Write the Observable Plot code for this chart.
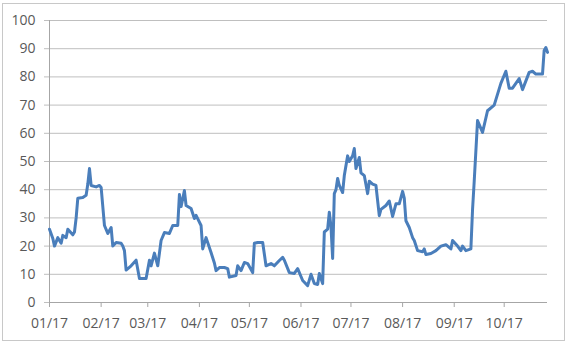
<!DOCTYPE html>
<html>
<head>
<meta charset="utf-8">
<script src="https://cdn.jsdelivr.net/npm/d3@7"></script>
<script src="https://cdn.jsdelivr.net/npm/@observablehq/plot@0.6"></script>
<style>
  html, body { margin: 0; padding: 0; background: #ffffff; }
  #wrap { position: relative; width: 570px; height: 345px; overflow: hidden; }
  #border { position: absolute; left: 2px; top: 3px; width: 561px; height: 336px; border: 1px solid #c8c8c8; pointer-events: none; }
  svg { display: block; }
</style>
</head>
<body>
<div id="wrap"><div id="border"></div></div>
<script>
const dates = [
  "2017-01-01","2017-01-03","2017-01-04","2017-01-06","2017-01-08","2017-01-09","2017-01-11","2017-01-12","2017-01-15","2017-01-16","2017-01-17","2017-01-18","2017-01-21","2017-01-23","2017-01-24","2017-01-25","2017-01-26","2017-01-29","2017-01-31",
  "2017-02-01","2017-02-03","2017-02-05","2017-02-07","2017-02-08","2017-02-10","2017-02-13","2017-02-14","2017-02-15","2017-02-16","2017-02-19","2017-02-22","2017-02-24","2017-02-28",
  "2017-03-02","2017-03-03","2017-03-05","2017-03-07","2017-03-09","2017-03-11","2017-03-14","2017-03-16","2017-03-19","2017-03-20","2017-03-21","2017-03-23","2017-03-24","2017-03-27","2017-03-29","2017-03-30",
  "2017-04-02","2017-04-03","2017-04-05","2017-04-08","2017-04-10","2017-04-11","2017-04-13","2017-04-16","2017-04-18","2017-04-19","2017-04-23","2017-04-24","2017-04-26","2017-04-28","2017-04-30",
  "2017-05-03","2017-05-04","2017-05-06","2017-05-09","2017-05-11","2017-05-14","2017-05-16","2017-05-19","2017-05-21","2017-05-22","2017-05-25","2017-05-28","2017-05-30",
  "2017-06-02","2017-06-05","2017-06-07","2017-06-09","2017-06-11","2017-06-12","2017-06-14","2017-06-15","2017-06-17","2017-06-18","2017-06-19","2017-06-20","2017-06-21","2017-06-22","2017-06-23","2017-06-24","2017-06-26","2017-06-27","2017-06-29","2017-06-30",
  "2017-07-02","2017-07-03","2017-07-04","2017-07-06","2017-07-07","2017-07-09","2017-07-11","2017-07-12","2017-07-14","2017-07-16","2017-07-18","2017-07-19","2017-07-22","2017-07-24","2017-07-26","2017-07-28","2017-07-30",
  "2017-08-01","2017-08-02","2017-08-03","2017-08-05","2017-08-07","2017-08-08","2017-08-10","2017-08-13","2017-08-14","2017-08-15","2017-08-18","2017-08-21","2017-08-24","2017-08-27","2017-08-30","2017-08-31",
  "2017-09-03","2017-09-05","2017-09-06","2017-09-08","2017-09-11","2017-09-12","2017-09-13","2017-09-15","2017-09-18","2017-09-21","2017-09-25","2017-09-29",
  "2017-10-02","2017-10-04","2017-10-06","2017-10-10","2017-10-12","2017-10-16","2017-10-18","2017-10-20","2017-10-24","2017-10-25","2017-10-26","2017-10-27"
];
const values = [
  26,22.7,20,23,21,23.8,23,26,24,25,30,37,37.2,38,42,47.5,41.5,41,41.5,
  40.8,27.3,24.5,26.6,20,21.3,21,20,18.4,11.5,13,15,8.5,8.5,
  15,13,17.5,13,22,24.8,24.5,27.3,27.3,38.3,34,39.7,34.4,33.3,29.8,30.9,
  27.3,19,23,17.7,14,11.3,12.4,12.4,12,9,9.6,13,11.3,14.2,13.8,
  10.6,21,21.3,21.3,13,13.8,13,14.9,16,15,10.6,10.3,12,
  7.8,6,10,6.7,6.4,10.3,6.7,25,26,32,27,15.6,38.6,40,44,41.5,39,45,52,50,
  52,54.6,47.5,51.4,46,45,38.6,43,42,41.5,30.8,33,34.4,36,30.5,35,35,
  39.4,37,29,26.6,23,22,18.4,18,19,17,17.4,18.4,20,20.5,19,22,
  20,18.4,20,18.4,19,33,43,64.5,60.3,68,70,77.7,
  82,76,76,79.4,75.5,81.6,82,81,81,89.4,90.4,88.7
];
const yTicks = [0,10,20,30,40,50,60,70,80,90,100];
const xTickFormat = "%m/%y";

const parse = d3.utcParse("%Y-%m-%d");
const data = dates.map((d, i) => ({date: parse(d), value: values[i]}));
const xDomain = [data[0].date, data[data.length - 1].date];
const monthTicks = d3.utcMonth.range(xDomain[0], xDomain[1]);

const gridColor = "#bfbfbf";
const textColor = "#595959";

const chart = Plot.plot({
  width: 570,
  height: 345,
  marginLeft: 49,
  marginRight: 23,
  marginTop: 20,
  marginBottom: 43,
  style: {fontFamily: "'Open Sans', sans-serif", fontSize: "14px", color: textColor, background: "transparent"},
  x: {type: "utc", domain: xDomain},
  y: {domain: [0, 100]},
  marks: [
    Plot.gridY(yTicks, {stroke: gridColor, strokeOpacity: 1}),
    Plot.axisY(yTicks, {tickSize: 5, tickPadding: 9, stroke: gridColor, fill: textColor, label: null}),
    Plot.axisX(monthTicks, {tickSize: 5, tickPadding: 11, tickFormat: d3.utcFormat(xTickFormat), stroke: "#a6a6a6", fill: textColor, label: null}),
    Plot.ruleX([xDomain[0]], {stroke: "#a6a6a6"}),
    Plot.ruleY([0], {stroke: "#a6a6a6"}),
    Plot.lineY(data, {x: "date", y: "value", stroke: "#4a7ebb", strokeWidth: 3, strokeLinejoin: "round", strokeLinecap: "round"})
  ]
});
document.getElementById("wrap").prepend(chart);
</script>
</body>
</html>
